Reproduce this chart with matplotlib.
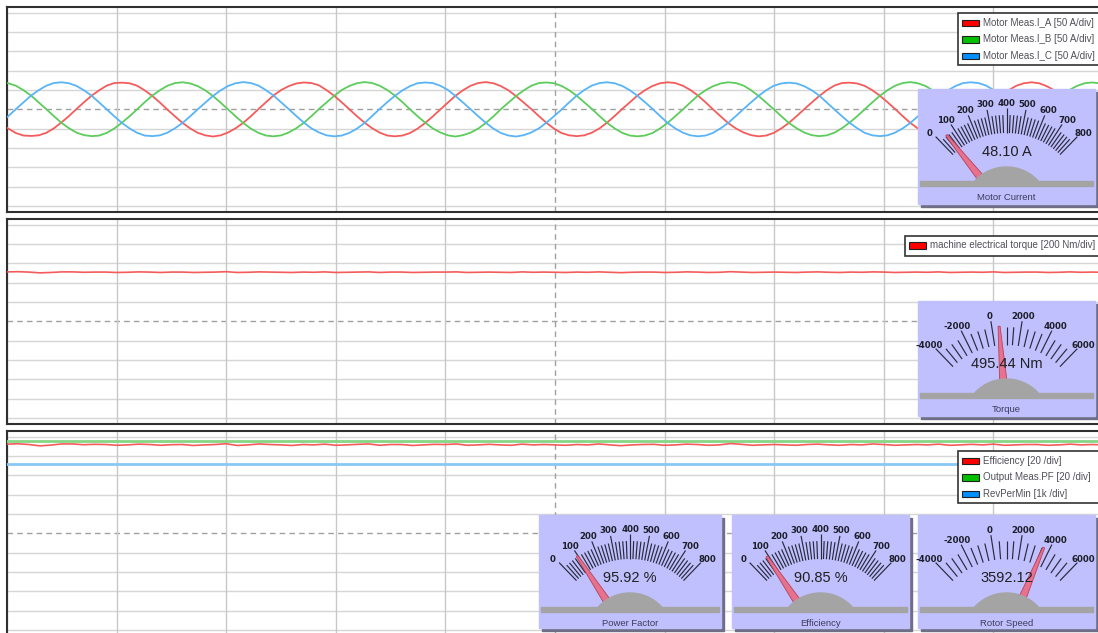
import numpy as np
import matplotlib
matplotlib.use('Agg')
import matplotlib.pyplot as plt
from matplotlib.patches import Rectangle, Polygon

W, H = 1098, 633

# ---- scope traces in divisions ----
# phase currents [50 A/div], one sample every DT div
DT = 0.06915
T0 = -0.057
i_a = [-0.72, -1.00, -1.23, -1.36, -1.38, -1.35, -1.22, -0.99, -0.68, -0.35, 0.02, 0.37,
       0.71, 0.99, 1.23, 1.36, 1.38, 1.35, 1.22, 0.98, 0.69, 0.35, -0.02, -0.37,
       -0.71, -0.99, -1.22, -1.35, -1.41, -1.35, -1.20, -0.98, -0.70, -0.36, 0.01, 0.37,
       0.72, 1.00, 1.20, 1.34, 1.39, 1.36, 1.24, 0.99, 0.70, 0.36, 0.00, -0.36,
       -0.69, -0.98, -1.21, -1.36, -1.40, -1.36, -1.23, -1.00, -0.71, -0.37, -0.01, 0.35,
       0.70, 0.99, 1.22, 1.36, 1.41, 1.35, 1.20, 0.98, 0.68, 0.35, 0.01, -0.35,
       -0.70, -1.00, -1.23, -1.35, -1.39, -1.35, -1.21, -0.99, -0.69, -0.35, 0.02, 0.36,
       0.71, 0.99, 1.21, 1.35, 1.40, 1.36, 1.22, 1.00, 0.71, 0.36, -0.01, -0.37,
       -0.72, -0.99, -1.20, -1.34, -1.40, -1.36, -1.22, -0.99, -0.70, -0.36, 0.00, 0.35,
       0.69, 0.99, 1.23, 1.36, 1.38, 1.34, 1.21, 0.99, 0.70, 0.37, 0.02, -0.35,
       -0.70, -0.99, -1.22, -1.36, -1.41, -1.35, -1.21, -0.98, -0.71, -0.36, 0.01, 0.36,
       0.70, 0.99, 1.22, 1.35, 1.40, 1.35, 1.20, 0.99, 0.69, 0.35, 0.00, -0.36,
       -0.71, -0.99, -1.21]
i_b = [1.38, 1.35, 1.22, 0.99, 0.71, 0.36, 0.01, -0.35, -0.70, -0.98, -1.21, -1.34,
       -1.39, -1.36, -1.22, -0.99, -0.69, -0.36, 0.00, 0.37, 0.71, 0.99, 1.22, 1.36,
       1.40, 1.34, 1.20, 0.98, 0.69, 0.35, -0.01, -0.37, -0.71, -1.00, -1.22, -1.36,
       -1.40, -1.35, -1.20, -0.98, -0.70, -0.35, 0.02, 0.36, 0.70, 1.00, 1.21, 1.35,
       1.41, 1.36, 1.22, 1.00, 0.71, 0.37, 0.00, -0.36, -0.69, -0.99, -1.20, -1.35,
       -1.41, -1.34, -1.21, -1.00, -0.71, -0.37, 0.01, 0.35, 0.69, 0.98, 1.22, 1.36,
       1.39, 1.35, 1.21, 0.99, 0.70, 0.36, 0.02, -0.35, -0.70, -0.99, -1.22, -1.36,
       -1.40, -1.36, -1.23, -0.99, -0.70, -0.36, -0.01, 0.36, 0.71, 0.99, 1.20, 1.34,
       1.40, 1.36, 1.23, 0.99, 0.69, 0.35, 0.00, -0.36, -0.71, -0.98, -1.20, -1.34,
       -1.39, -1.35, -1.21, -0.98, -0.69, -0.36, 0.00, 0.36, 0.70, 0.99, 1.22, 1.36,
       1.41, 1.35, 1.21, 0.98, 0.70, 0.36, 0.01, -0.36, -0.70, -0.99, -1.22, -1.35,
       -1.40, -1.36, -1.22, -0.99, -0.71, -0.36, 0.01, 0.37, 0.71, 1.00, 1.21, 1.35,
       1.39, 1.35, 1.22]
i_c = [-0.69, -0.35, 0.01, 0.36, 0.71, 0.99, 1.22, 1.36, 1.40, 1.35, 1.21, 0.98,
       0.70, 0.35, -0.01, -0.37, -0.71, -0.99, -1.22, -1.36, -1.39, -1.35, -1.21, -0.98,
       -0.70, -0.36, 0.00, 0.35, 0.69, 0.98, 1.21, 1.35, 1.41, 1.36, 1.23, 0.99,
       0.71, 0.36, 0.01, -0.35, -0.69, -0.99, -1.20, -1.35, -1.40, -1.36, -1.22, -1.00,
       -0.71, -0.35, 0.02, 0.37, 0.70, 0.98, 1.20, 1.35, 1.39, 1.36, 1.22, 1.00,
       0.69, 0.35, 0.00, -0.36, -0.70, -1.00, -1.23, -1.36, -1.41, -1.34, -1.20, -0.99,
       -0.69, -0.36, -0.01, 0.36, 0.71, 1.00, 1.23, 1.36, 1.40, 1.35, 1.21, 0.99,
       0.70, 0.37, 0.02, -0.35, -0.71, -0.99, -1.21, -1.35, -1.40, -1.36, -1.22, -0.98,
       -0.70, -0.35, 0.01, 0.36, 0.70, 0.99, 1.22, 1.34, 1.38, 1.34, 1.20, 0.99,
       0.71, 0.35, -0.01, -0.36, -0.70, -0.98, -1.22, -1.35, -1.39, -1.35, -1.21, -0.99,
       -0.71, -0.37, 0.00, 0.36, 0.69, 0.99, 1.21, 1.36, 1.40, 1.36, 1.23, 1.00,
       0.70, 0.36, 0.01, -0.36, -0.69, -0.99, -1.21, -1.36, -1.41, -1.35, -1.22, -0.99,
       -0.70, -0.36, 0.01]

# torque [200 Nm/div] and efficiency [20 /div], one sample every 0.1 div
torque_div = [2.56, 2.57, 2.55, 2.51, 2.53, 2.56, 2.56, 2.54, 2.55, 2.55,
              2.53, 2.54, 2.56, 2.55, 2.53, 2.55, 2.55, 2.53, 2.54, 2.55,
              2.57, 2.53, 2.54, 2.56, 2.55, 2.54, 2.53, 2.55, 2.54, 2.56,
              2.53, 2.54, 2.55, 2.56, 2.53, 2.55, 2.55, 2.53, 2.54, 2.55,
              2.55, 2.56, 2.53, 2.54, 2.55, 2.54, 2.53, 2.56, 2.54, 2.55,
              2.54, 2.53, 2.55, 2.54, 2.56, 2.54, 2.52, 2.54, 2.55, 2.55,
              2.53, 2.54, 2.56, 2.55, 2.53, 2.54, 2.57, 2.55, 2.53, 2.54,
              2.55, 2.54, 2.53, 2.55, 2.56, 2.54, 2.53, 2.55, 2.54, 2.56,
              2.55, 2.53, 2.54, 2.55, 2.54, 2.56, 2.53, 2.54, 2.55, 2.54,
              2.56, 2.53, 2.54, 2.55, 2.55, 2.53, 2.54, 2.56, 2.54, 2.55, 2.54]
eff_div = [4.62, 4.64, 4.60, 4.53, 4.57, 4.63, 4.63, 4.59, 4.61, 4.60,
           4.56, 4.58, 4.62, 4.60, 4.56, 4.59, 4.60, 4.55, 4.58, 4.60,
           4.64, 4.55, 4.58, 4.63, 4.60, 4.58, 4.55, 4.60, 4.58, 4.62,
           4.56, 4.58, 4.61, 4.63, 4.56, 4.60, 4.60, 4.55, 4.58, 4.61,
           4.60, 4.63, 4.56, 4.58, 4.61, 4.58, 4.56, 4.62, 4.58, 4.60,
           4.58, 4.56, 4.60, 4.58, 4.63, 4.58, 4.54, 4.58, 4.60, 4.61,
           4.56, 4.58, 4.62, 4.60, 4.56, 4.58, 4.65, 4.61, 4.56, 4.58,
           4.60, 4.58, 4.56, 4.60, 4.62, 4.58, 4.56, 4.60, 4.58, 4.63,
           4.60, 4.56, 4.58, 4.60, 4.58, 4.62, 4.56, 4.58, 4.61, 4.58,
           4.62, 4.56, 4.58, 4.60, 4.60, 4.56, 4.58, 4.62, 4.58, 4.60, 4.58]
# power factor [%] and speed [rpm], one sample per division
pf_pct = [95.9, 95.9, 95.9, 95.9, 95.9, 95.9, 95.9, 95.9, 95.9, 95.9, 95.9]
rpm = [3592, 3592, 3592, 3592, 3592, 3592, 3592, 3592, 3592, 3592, 3592]

legend_top = ['Motor Meas.I_A [50 A/div]', 'Motor Meas.I_B [50 A/div]', 'Motor Meas.I_C [50 A/div]']
legend_mid = ['machine electrical torque [200 Nm/div]']
legend_bot = ['Efficiency [20 /div]', 'Output Meas.PF [20 /div]', 'RevPerMin [1k /div]']

# ---- meters ----
gauge_titles = ['Motor Current', 'Torque', 'Power Factor', 'Efficiency', 'Rotor Speed']
gauge_values = [48.10, 495.44, 95.92, 90.85, 3592.12]
gauge_units = [' A', ' Nm', ' %', ' %', '']
gauge_ranges = [(0, 800), (-4000, 6000), (0, 800), (0, 800), (-4000, 6000)]
gauge_label_step = [100, 2000, 100, 100, 2000]
gauge_minor_step = [20, 500, 20, 20, 500]

RED, GREEN, BLUE = '#f45c5c', '#5ccc5c', '#58b4f6'
LEG_RED, LEG_GREEN, LEG_BLUE = '#ff0000', '#00c000', '#0090ff'

fig = plt.figure(figsize=(W / 100, H / 100), dpi=100)


def px_axes(x0, y0, x1, y1):
    return fig.add_axes([x0 / W, 1 - y1 / H, (x1 - x0) / W, (y1 - y0) / H])


def scope_panel(y0):
    ax = px_axes(7, y0, 1103, y0 + 204.6)
    ax.set_xlim(0, 10)
    ax.set_ylim(-5.3, 5.3)
    for y in range(-5, 6):
        if y == 0:
            ax.axhline(0, color='#a0a0a0', lw=1, ls=(0, (4, 3)), zorder=1)
        else:
            ax.axhline(y, color='#d6d6d6', lw=1, zorder=1)
    for x in range(0, 11):
        if x == 5:
            ax.axvline(5, color='#a0a0a0', lw=1, ls=(0, (4, 3)), zorder=1)
        else:
            ax.axvline(x, color='#c8c8c8', lw=1, zorder=1)
    ax.set_xticks([])
    ax.set_yticks([])
    for s in ax.spines.values():
        s.set_color('#303030')
        s.set_linewidth(1.5)
    return ax


ax1 = scope_panel(7)
t_i = T0 + DT * np.arange(len(i_a))
ax1.plot(t_i, i_a, color=RED, lw=1.3, zorder=3)
ax1.plot(t_i, i_b, color=GREEN, lw=1.3, zorder=3)
ax1.plot(t_i, i_c, color=BLUE, lw=1.3, zorder=3)

ax2 = scope_panel(219)
t_q = 0.1 * np.arange(len(torque_div))
ax2.plot(t_q, torque_div, color=RED, lw=1.2, zorder=3)

ax3 = scope_panel(431)
t_e = 0.1 * np.arange(len(eff_div))
t_s = np.arange(len(pf_pct))
ax3.plot(t_s, np.array(pf_pct) / 20, color='#86d686', lw=2, zorder=3)
ax3.plot(t_s, np.array(rpm) / 1000, color='#88c8f4', lw=2, zorder=3)
ax3.plot(t_e, eff_div, color=RED, lw=1.2, zorder=4)

# overlay in screen pixels for legends and meters
ov = fig.add_axes([0, 0, 1, 1])
ov.set_xlim(0, W)
ov.set_ylim(H, 0)
ov.axis('off')

TXT = ['Liberation Sans', 'DejaVu Sans']


def draw_legend(x0, y0, y1, names, colors):
    ov.add_patch(Rectangle((x0, y0), W + 10 - x0, y1 - y0, facecolor='white',
                           edgecolor='#333333', lw=1.2, zorder=12))
    for i, (name, c) in enumerate(zip(names, colors)):
        ry = y0 + 9.8 + 16.5 * i
        ov.add_patch(Rectangle((x0 + 3.5, ry - 3.2), 17, 6.4, facecolor=c,
                               edgecolor='#202020', lw=0.8, zorder=13))
        ov.text(x0 + 25, ry, name, ha='left', va='center', fontsize=7,
                family=TXT, color='#50505a', zorder=13)


draw_legend(958, 13, 65, legend_top, [LEG_RED, LEG_GREEN, LEG_BLUE])
draw_legend(905, 235.5, 255.5, legend_mid, [LEG_RED])
draw_legend(958, 451, 503, legend_bot, [LEG_RED, LEG_GREEN, LEG_BLUE])


def draw_gauge(x0, y0, w, h, k):
    vmin, vmax = gauge_ranges[k]
    value = gauge_values[k]
    ov.add_patch(Rectangle((x0 + 3, y0 + 3), w, h, color='#6e6e86', zorder=5))
    ov.add_patch(Rectangle((x0, y0), w, h, color='#c0c0ff', zorder=6))
    cx, cy = x0 + w / 2, y0 + 121

    def ang(v):
        return np.radians(-44 + 88 * (v - vmin) / (vmax - vmin))

    step = gauge_minor_step[k]
    lstep = gauge_label_step[k]
    n = int(round((vmax - vmin) / step))
    for i in range(n + 1):
        v = vmin + i * step
        a = ang(v)
        major = (v - vmin) % lstep == 0
        r1, r2 = 77, (102 if major else 95)
        ov.plot([cx + r1 * np.sin(a), cx + r2 * np.sin(a)],
                [cy - r1 * np.cos(a), cy - r2 * np.cos(a)],
                color='#2a2a3a', lw=0.85, zorder=7, solid_capstyle='butt')
    for v in range(vmin, vmax + 1, lstep):
        a = ang(v)
        ov.text(cx + 111 * np.sin(a), cy - 107 * np.cos(a), str(v), ha='center',
                va='center', fontsize=6.2, fontweight='bold', color='#1e1e2a', zorder=8)

    # needle
    a = ang(value)
    d = np.array([np.sin(a), -np.cos(a)])
    p = np.array([np.cos(a), np.sin(a)])
    c = np.array([cx, cy])
    base, tip = c + 38 * d, c + 96 * d
    ov.add_patch(Polygon([base + 3.8 * p, tip + 1.0 * p, tip - 1.0 * p, base - 3.8 * p],
                         closed=True, facecolor='#e6728e', edgecolor='#b8405a',
                         lw=0.6, zorder=9))

    # hub and base bar
    bar_top = y0 + 92
    R = 43
    phi = np.arccos((cy - bar_top) / R)
    ph = np.linspace(-phi, phi, 40)
    ov.add_patch(Polygon(np.column_stack([cx + R * np.sin(ph), cy - R * np.cos(ph)]),
                         closed=True, color='#a4a4a4', zorder=10))
    ov.add_patch(Rectangle((x0 + 2, bar_top), w - 4, 5, color='#a4a4a4', zorder=10))

    ov.text(cx, y0 + 63, f'{value:.2f}{gauge_units[k]}', ha='center', va='center',
            fontsize=10.5, family=TXT, color='#202020', zorder=11)
    ov.text(cx, y0 + 108.5, gauge_titles[k], ha='center', va='center',
            fontsize=6.8, family=TXT, color='#3c3c58', zorder=11)


draw_gauge(918, 89, 177, 115, 0)
draw_gauge(918, 301, 177, 115, 1)
draw_gauge(539, 515, 182, 113, 2)
draw_gauge(732, 515, 177, 113, 3)
draw_gauge(918, 515, 177, 113, 4)

fig.savefig('out.png', dpi=100, facecolor='white')
